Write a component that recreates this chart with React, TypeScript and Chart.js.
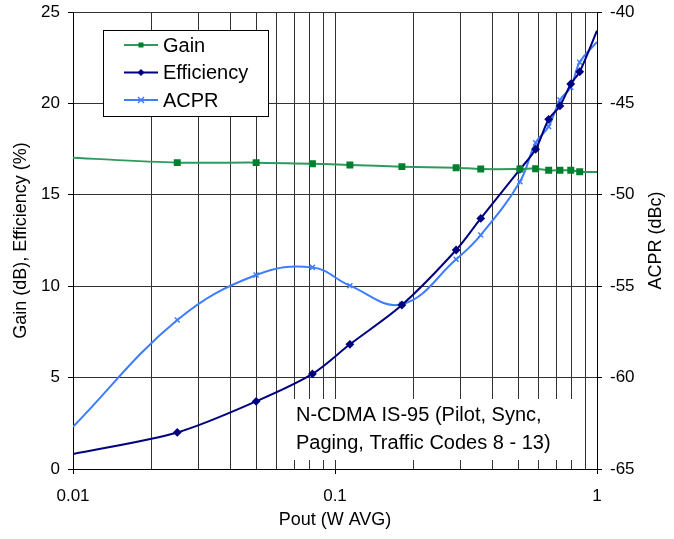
import React, { useEffect, useRef } from "react";
import { Chart, registerables } from "chart.js";

Chart.register(...registerables);

// ---- data ----
const poutW = [0.01, 0.025, 0.05, 0.082, 0.114, 0.18, 0.29, 0.36, 0.508, 0.583, 0.654, 0.722, 0.794, 0.859, 1.0];
const gainDb = [17.03, 16.76, 16.76, 16.7, 16.63, 16.54, 16.48, 16.41, 16.41, 16.43, 16.34, 16.34, 16.34, 16.26, 16.25];
const efficiencyPct = [0.82, 2.0, 3.7, 5.2, 6.82, 8.97, 11.98, 13.71, 16.39, 17.49, 19.13, 19.86, 21.06, 21.73, 23.98];
const acprDbc = [-62.69, -56.85, -54.39, -53.97, -54.97, -55.99, -53.53, -52.2, -49.28, -47.15, -46.27, -44.81, -44.12, -42.75, -41.64];

const xGridValues = [0.01, 0.02, 0.03, 0.04, 0.05, 0.06, 0.07, 0.08, 0.09, 0.1, 0.2, 0.3, 0.4, 0.5, 0.6, 0.7, 0.8, 0.9, 1];
const xMajorValues = [0.01, 0.1, 1];
const xMajorLabels = ["0.01", "0.1", "1"];
const leftTicks = [0, 5, 10, 15, 20, 25];
const rightTicks = [-65, -60, -55, -50, -45, -40];
const noteLines = ["N-CDMA IS-95 (Pilot, Sync,", "Paging, Traffic Codes 8 - 13)"];
const rightTitle = "ACPR (dBc)";

const FONT = "'Liberation Sans', Arial, sans-serif";
const GAIN_LINE = "#2F9A5C";
const GAIN_PT = "#00802F";
const EFF = "#000080";
const ACPR = "#3F7DFF";

const majorIndex = (v: number) => xMajorValues.findIndex((m) => Math.abs(m - v) < 1e-9);

function marker(ctx: CanvasRenderingContext2D, kind: string, x: number, y: number, color: string) {
  ctx.save();
  ctx.fillStyle = color;
  ctx.strokeStyle = color;
  if (kind === "rect") {
    ctx.fillRect(x - 2.5, y - 2.5, 5, 5);
  } else if (kind === "diamond") {
    ctx.beginPath();
    ctx.moveTo(x, y - 3.5);
    ctx.lineTo(x + 3.5, y);
    ctx.lineTo(x, y + 3.5);
    ctx.lineTo(x - 3.5, y);
    ctx.closePath();
    ctx.fill();
  } else {
    ctx.lineWidth = 1.5;
    ctx.beginPath();
    ctx.moveTo(x - 3, y - 3);
    ctx.lineTo(x + 3, y + 3);
    ctx.moveTo(x + 3, y - 3);
    ctx.lineTo(x - 3, y + 3);
    ctx.stroke();
  }
  ctx.restore();
}

const notePlugin = {
  id: "noteBox",
  beforeDatasetsDraw(chart: any) {
    const ctx = chart.ctx as CanvasRenderingContext2D;
    ctx.save();
    ctx.fillStyle = "#ffffff";
    ctx.fillRect(287, 399, 291, 61);
    ctx.fillStyle = "#000";
    ctx.font = `20px ${FONT}`;
    ctx.textBaseline = "middle";
    ctx.textAlign = "left";
    noteLines.forEach((t, i) => ctx.fillText(t, 296, 415 + i * 28));
    ctx.restore();
  },
};

const rightTitlePlugin = {
  id: "rightTitle",
  afterDraw(chart: any) {
    const ctx = chart.ctx as CanvasRenderingContext2D;
    const area = chart.chartArea;
    ctx.save();
    ctx.translate(656.5, (area.top + area.bottom) / 2);
    ctx.rotate(-Math.PI / 2);
    ctx.fillStyle = "#000";
    ctx.font = `18px ${FONT}`;
    ctx.textAlign = "center";
    ctx.textBaseline = "middle";
    ctx.fillText(rightTitle, 0, 0);
    ctx.restore();
  },
};

const legendPlugin = {
  id: "boxLegend",
  afterDatasetsDraw(chart: any) {
    const ctx = chart.ctx as CanvasRenderingContext2D;
    ctx.save();
    ctx.fillStyle = "#ffffff";
    ctx.fillRect(103.5, 30.5, 165, 86);
    ctx.strokeStyle = "#000";
    ctx.lineWidth = 1;
    ctx.strokeRect(103.5, 30.5, 165, 86);
    const items = [
      { label: chart.data.datasets[0].label, line: GAIN_LINE, pt: GAIN_PT, kind: "rect" },
      { label: chart.data.datasets[1].label, line: EFF, pt: EFF, kind: "diamond" },
      { label: chart.data.datasets[2].label, line: ACPR, pt: ACPR, kind: "cross" },
    ];
    items.forEach((it, i) => {
      const y = 45 + i * 27.5;
      ctx.strokeStyle = it.line;
      ctx.lineWidth = 2;
      ctx.beginPath();
      ctx.moveTo(124, y);
      ctx.lineTo(158, y);
      ctx.stroke();
      marker(ctx, it.kind, 141, y, it.pt);
      ctx.fillStyle = "#000";
      ctx.font = `20px ${FONT}`;
      ctx.textBaseline = "middle";
      ctx.textAlign = "left";
      ctx.fillText(it.label, 163, y + 1);
    });
    ctx.restore();
  },
};

export default function App() {
  const canvasRef = useRef<HTMLCanvasElement | null>(null);

  useEffect(() => {
    if (!canvasRef.current) return;
    Chart.defaults.font.family = FONT;
    Chart.defaults.color = "#000";
    const pts = (arr: number[]) => arr.map((v, i) => ({ x: poutW[i], y: v }));
    const radii = poutW.map((_, i) => (i === 0 || i === poutW.length - 1 ? 0 : 3.5));
    const noPad = (s: any) => {
      s.paddingTop = 0;
      s.paddingBottom = 0;
      s.paddingLeft = 0;
      s.paddingRight = 0;
    };
    const chart = new Chart(canvasRef.current, {
      type: "line",
      data: {
        datasets: [
          {
            label: "Gain",
            data: pts(gainDb),
            yAxisID: "y",
            borderColor: GAIN_LINE,
            backgroundColor: GAIN_PT,
            pointBackgroundColor: GAIN_PT,
            pointBorderColor: GAIN_PT,
            pointStyle: "rect",
            pointRadius: radii,
            borderWidth: 2,
            tension: 0.3,
          },
          {
            label: "Efficiency",
            data: pts(efficiencyPct),
            yAxisID: "y",
            borderColor: EFF,
            backgroundColor: EFF,
            pointBackgroundColor: EFF,
            pointBorderColor: EFF,
            pointStyle: "rectRot",
            pointRadius: radii.map((r) => (r ? 3 : 0)),
            borderWidth: 2,
            tension: 0.3,
          },
          {
            label: "ACPR",
            data: pts(acprDbc),
            yAxisID: "y2",
            borderColor: ACPR,
            backgroundColor: ACPR,
            pointBackgroundColor: ACPR,
            pointBorderColor: ACPR,
            pointStyle: "crossRot",
            pointRadius: radii.map((r) => (r ? 3.5 : 0)),
            pointBorderWidth: 1.5,
            borderWidth: 2,
            tension: 0.4,
          },
        ],
      },
      options: {
        animation: false,
        responsive: true,
        maintainAspectRatio: false,
        layout: { padding: { top: 12, left: 0, right: 0, bottom: 0 } },
        plugins: { legend: { display: false }, tooltip: { enabled: false } },
        scales: {
          x: {
            type: "logarithmic",
            position: "bottom",
            min: 0.01,
            max: 1,
            afterBuildTicks: (s: any) => {
              s.ticks = xGridValues.map((v) => ({ value: v }));
            },
            afterFit: (s: any) => {
              s.height = 70;
              noPad(s);
            },
            ticks: {
              autoSkip: false,
              maxRotation: 0,
              minRotation: 0,
              padding: 12,
              font: { size: 17 },
              color: "#000",
              callback: (v: any) => {
                const k = majorIndex(Number(v));
                return k >= 0 ? xMajorLabels[k] : "";
              },
            },
            grid: {
              color: "#333",
              lineWidth: 1,
              tickLength: 5,
              tickColor: (c: any) => (c.tick && majorIndex(c.tick.value) >= 0 ? "#000" : "rgba(0,0,0,0)"),
            },
            border: { color: "#000", width: 1 },
            title: {
              display: true,
              text: "Pout (W AVG)",
              color: "#000",
              font: { size: 18 },
              padding: { top: 0, bottom: 8 },
            },
          },
          y: {
            position: "left",
            min: 0,
            max: 25,
            afterBuildTicks: (s: any) => {
              s.ticks = leftTicks.map((v) => ({ value: v }));
            },
            afterFit: (s: any) => {
              s.width = 73;
              noPad(s);
            },
            ticks: { padding: 8, font: { size: 17 }, color: "#000" },
            grid: { color: "#333", lineWidth: 1, tickLength: 5, tickColor: "#000" },
            border: { color: "#000", width: 1 },
            title: {
              display: true,
              text: "Gain (dB), Efficiency (%)",
              color: "#000",
              font: { size: 18 },
              padding: { top: 10, bottom: 0 },
            },
          },
          y2: {
            position: "right",
            min: -65,
            max: -40,
            afterBuildTicks: (s: any) => {
              s.ticks = rightTicks.map((v) => ({ value: v }));
            },
            afterFit: (s: any) => {
              s.width = 77;
              noPad(s);
            },
            ticks: { padding: 8, font: { size: 17 }, color: "#000" },
            grid: { drawOnChartArea: false, tickLength: 5, tickColor: "#000" },
            border: { color: "#000", width: 1 },
            title: { display: false },
          },
        },
      },
      plugins: [notePlugin, legendPlugin, rightTitlePlugin],
    } as any);
    return () => chart.destroy();
  }, []);

  return (
    <div style={{ position: "absolute", left: 0, top: 0, width: 674, height: 539, background: "#fff" }}>
      <canvas ref={canvasRef} />
    </div>
  );
}
